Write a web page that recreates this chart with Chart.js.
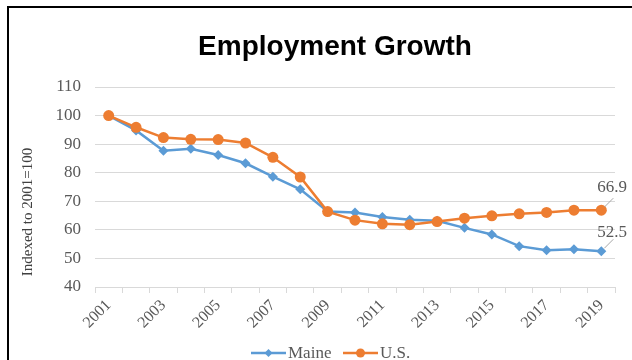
<!DOCTYPE html>
<html>
<head>
<meta charset="utf-8">
<script src="https://cdn.jsdelivr.net/npm/chart.js@4"></script>
<style>
  html, body { margin: 0; padding: 0; background: #fff; }
  #wrap { position: relative; width: 632px; height: 360px; overflow: hidden; }
  #frame { position: absolute; left: 7px; top: 6px; right: -4px; bottom: -4px;
           border-top: 2px solid #000; border-left: 2px solid #000; pointer-events: none; }
</style>
</head>
<body>
<div id="wrap">
  <canvas id="mycanvas" width="632" height="360"></canvas>
  <div id="frame"></div>
</div>
<script>
// data
var years = ['2001','2002','2003','2004','2005','2006','2007','2008','2009','2010',
             '2011','2012','2013','2014','2015','2016','2017','2018','2019'];
var maine = [100, 94.8, 87.7, 88.4, 86.2, 83.3, 78.6, 74.2, 66.4, 66.1,
             64.5, 63.5, 63.2, 60.7, 58.4, 54.3, 52.9, 53.2, 52.5];
var us    = [100, 95.9, 92.3, 91.7, 91.6, 90.4, 85.4, 78.5, 66.4, 63.4,
             62.1, 61.8, 62.9, 64.1, 64.9, 65.6, 66.1, 66.9, 66.9];
var yTicks = [40, 50, 60, 70, 80, 90, 100, 110];

var blue = '#5B9BD5';
var orange = '#ED7D31';
var grey = '#595959';
var serif = "'Liberation Serif', 'DejaVu Serif', serif";

var extras = {
  id: 'extras',
  afterDraw: function(chart){
    var ctx = chart.ctx;
    var xs = chart.scales.x, ys = chart.scales.y;
    ctx.save();

    // title
    ctx.fillStyle = '#000';
    ctx.font = "bold 28px 'Liberation Sans', Arial, sans-serif";
    ctx.textAlign = 'center';
    ctx.textBaseline = 'alphabetic';
    ctx.fillText('Employment Growth', 335, 55);

    // y axis title
    ctx.save();
    ctx.translate(28, 212);
    ctx.rotate(-Math.PI / 2);
    ctx.fillStyle = '#404040';
    ctx.font = '15px ' + serif;
    ctx.textAlign = 'center';
    ctx.textBaseline = 'middle';
    ctx.fillText('Indexed to 2001=100', 0, 0);
    ctx.restore();

    // end labels with leader lines
    var last = years.length - 1;
    var px = xs.getPixelForValue(last);
    [[us, -18], [maine, -14]].forEach(function(s){
      var py = ys.getPixelForValue(s[0][last]);
      ctx.strokeStyle = '#a6a6a6';
      ctx.lineWidth = 1;
      ctx.beginPath();
      ctx.moveTo(px + 3, py - 3);
      ctx.lineTo(px + 12, py - 12);
      ctx.stroke();
      ctx.fillStyle = grey;
      ctx.font = '17px ' + serif;
      ctx.textAlign = 'left';
      ctx.textBaseline = 'alphabetic';
      ctx.fillText(s[0][last].toFixed(1), px - 4, py + s[1]);
    });

    // legend
    var ly = 353;
    var items = [
      { label: 'Maine', color: blue, style: 'diamond', x: 251 },
      { label: 'U.S.', color: orange, style: 'circle', x: 343 }
    ];
    items.forEach(function(it){
      ctx.strokeStyle = it.color;
      ctx.lineWidth = 2.5;
      ctx.beginPath();
      ctx.moveTo(it.x, ly);
      ctx.lineTo(it.x + 35, ly);
      ctx.stroke();
      ctx.fillStyle = it.color;
      var cx = it.x + 17.5;
      ctx.beginPath();
      if (it.style === 'circle') {
        ctx.arc(cx, ly, 4.5, 0, Math.PI * 2);
      } else {
        ctx.moveTo(cx, ly - 4); ctx.lineTo(cx + 4, ly);
        ctx.lineTo(cx, ly + 4); ctx.lineTo(cx - 4, ly);
        ctx.closePath();
      }
      ctx.fill();
      ctx.fillStyle = grey;
      ctx.font = '17px ' + serif;
      ctx.textAlign = 'left';
      ctx.textBaseline = 'middle';
      ctx.fillText(it.label, it.x + 37, ly + 1);
    });

    ctx.restore();
  }
};

var chartdata = {
  labels: years,
  datasets: [
    {
      label: 'Maine',
      data: maine,
      order: 2,
      borderColor: blue,
      backgroundColor: blue,
      borderWidth: 2.5,
      pointStyle: 'rectRot',
      pointRadius: 5,
      pointBorderWidth: 0,
      tension: 0
    },
    {
      label: 'U.S.',
      data: us,
      order: 1,
      borderColor: orange,
      backgroundColor: orange,
      borderWidth: 2.5,
      pointStyle: 'circle',
      pointRadius: 5.5,
      pointBorderWidth: 0,
      tension: 0
    }
  ]
};

var ctx = document.getElementById('mycanvas');
var lineGraph = new Chart(ctx, {
  type: 'line',
  data: chartdata,
  plugins: [extras],
  options: {
    responsive: false,
    animation: false,
    layout: { padding: { top: 87, right: 17, left: 0, bottom: 0 } },
    plugins: {
      legend: { display: false },
      title: { display: false },
      tooltip: { enabled: false }
    },
    scales: {
      x: {
        offset: true,
        afterFit: function(scale){ scale.height = 73; },
        grid: { offset: true, drawOnChartArea: false, color: '#d9d9d9', tickLength: 6 },
        border: { color: '#d9d9d9', width: 1 },
        ticks: {
          autoSkip: false,
          minRotation: 45,
          maxRotation: 45,
          padding: 3,
          color: grey,
          font: { family: serif, size: 16 },
          callback: function(v, i){ return i % 2 === 0 ? years[i] : ''; }
        }
      },
      y: {
        min: 40,
        max: 110,
        afterFit: function(scale){ scale.width = 95; },
        afterBuildTicks: function(scale){
          scale.ticks = yTicks.map(function(v){ return { value: v }; });
        },
        grid: { color: '#d9d9d9', drawTicks: false },
        border: { display: false },
        ticks: {
          padding: 14,
          color: grey,
          font: { family: serif, size: 17 }
        }
      }
    }
  }
});
</script>
</body>
</html>
